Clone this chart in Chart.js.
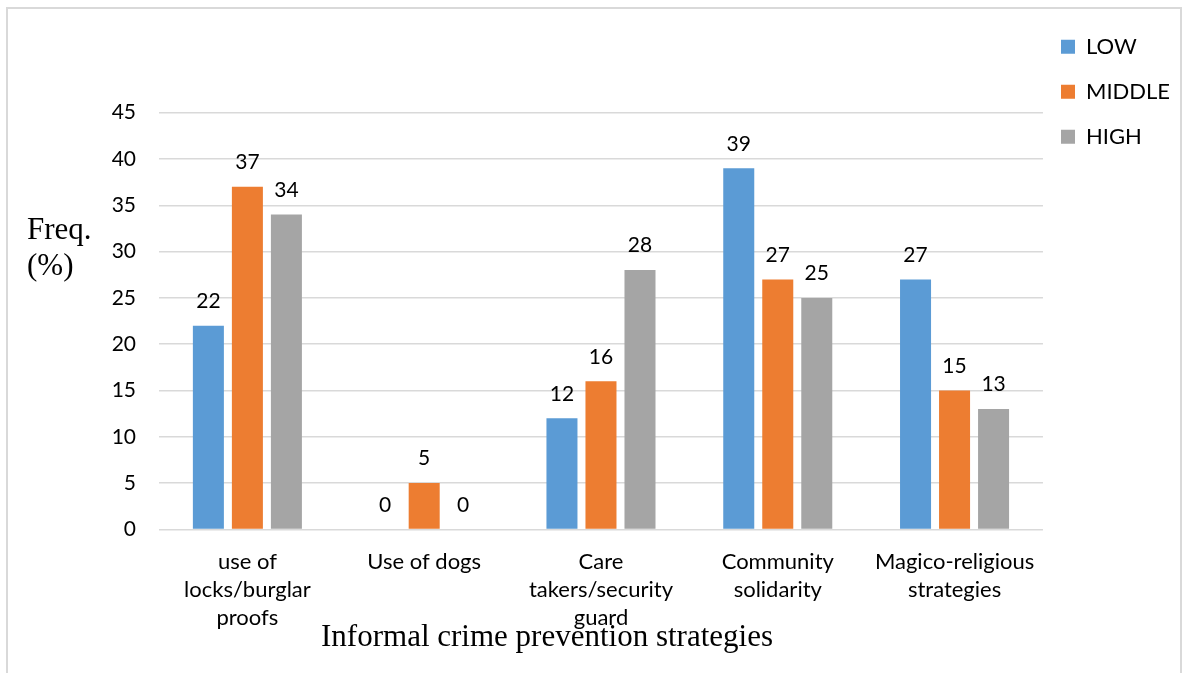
<!DOCTYPE html>
<html>
<head>
<meta charset="utf-8">
<script src="https://cdn.jsdelivr.net/npm/chart.js@4.4.1/dist/chart.umd.min.js"></script>
<style>
  html, body { margin: 0; padding: 0; background: #ffffff; }
  #wrap { position: relative; width: 1186px; height: 673px; overflow: hidden; }
  #c { position: absolute; left: 0; top: 0; }
  #frame { position: absolute; left: 6px; top: 7px; width: 1172px; height: 700px;
           border: 2px solid #d9d9d9; pointer-events: none; }
</style>
</head>
<body>
<div id="wrap">
  <canvas id="c" width="1186" height="673"></canvas>
  <div id="frame"></div>
</div>
<script>
// ---- data ----
const categories = [
  ["use of", "locks/burglar", "proofs"],
  ["Use of dogs"],
  ["Care", "takers/security", "guard"],
  ["Community", "solidarity"],
  ["Magico-religious", "strategies"]
];
const seriesNames = ["LOW", "MIDDLE", "HIGH"];
const lowValues = [22, 0, 12, 39, 27];
const middleValues = [37, 5, 16, 27, 15];
const highValues = [34, 0, 28, 25, 13];
const yMin = 0, yMax = 45, yStep = 5;
const yTitleLines = ["Freq.", "(%)"];
const xTitle = "Informal crime prevention strategies";

const colors = ["#5B9BD5", "#ED7D31", "#A5A5A5"];
const sansFont = "Lato, 'Open Sans', sans-serif";
const serifFont = "'Liberation Serif', 'DejaVu Serif', serif";

const valueLabels = {
  id: 'valueLabels',
  afterDatasetsDraw(chart) {
    const ctx = chart.ctx;
    ctx.save();
    ctx.font = "21px " + sansFont;
    ctx.fillStyle = "#000";
    ctx.textAlign = "center";
    ctx.textBaseline = "middle";
    chart.data.datasets.forEach((ds, di) => {
      const meta = chart.getDatasetMeta(di);
      meta.data.forEach((el, i) => {
        ctx.fillText(String(ds.data[i]), el.x, el.y - 24.5);
      });
    });
    ctx.restore();
  }
};

const axisTitles = {
  id: 'axisTitles',
  afterDraw(chart) {
    const ctx = chart.ctx;
    ctx.save();
    ctx.fillStyle = "#000";
    ctx.font = "31px " + serifFont;
    ctx.textBaseline = "alphabetic";
    ctx.textAlign = "left";
    ctx.fillText(yTitleLines[0], 27, 238.5);
    ctx.fillText(yTitleLines[1], 27, 274.5);
    ctx.textAlign = "center";
    ctx.fillText(xTitle, 547, 646);
    ctx.restore();
  }
};

const legendPlacement = {
  id: 'legendPlacement',
  afterLayout(chart) {
    const lg = chart.legend;
    if (!lg) return;
    const w = lg.width, h = lg.height;
    lg.left = 1038; lg.right = lg.left + w;
    lg.top = 12.7; lg.bottom = lg.top + h;
  }
};

new Chart(document.getElementById('c'), {
  type: 'bar',
  data: {
    labels: categories,
    datasets: [
      { label: seriesNames[0], data: lowValues, backgroundColor: colors[0] },
      { label: seriesNames[1], data: middleValues, backgroundColor: colors[1] },
      { label: seriesNames[2], data: highValues, backgroundColor: colors[2] }
    ]
  },
  options: {
    responsive: false,
    animation: false,
    devicePixelRatio: 1,
    layout: { padding: { top: 112.7, right: 1, bottom: 0, left: 0 } },
    datasets: { bar: { categoryPercentage: 0.662, barPercentage: 0.795 } },
    plugins: {
      tooltip: { enabled: false },
      title: { display: false },
      legend: {
        position: 'right',
        align: 'start',
        labels: {
          boxWidth: 14, boxHeight: 14, padding: 23,
          color: "#000",
          font: { family: sansFont, size: 22 }
        }
      }
    },
    scales: {
      x: {
        grid: { display: false, drawTicks: false },
        border: { display: false },
        ticks: {
          color: "#000", padding: 18.6, maxRotation: 0, autoSkip: false,
          font: { family: sansFont, size: 22, lineHeight: 1.273 }
        },
        afterFit(scale) { scale.height = 673 - 529.4; }
      },
      y: {
        min: yMin, max: yMax,
        grid: { color: "#d9d9d9", lineWidth: 1.5, drawTicks: false },
        border: { display: false },
        ticks: {
          stepSize: yStep, color: "#000", padding: 23,
          font: { family: sansFont, size: 21 }
        },
        afterFit(scale) { scale.width = 159; }
      }
    }
  },
  plugins: [valueLabels, axisTitles, legendPlacement]
});
</script>
</body>
</html>
